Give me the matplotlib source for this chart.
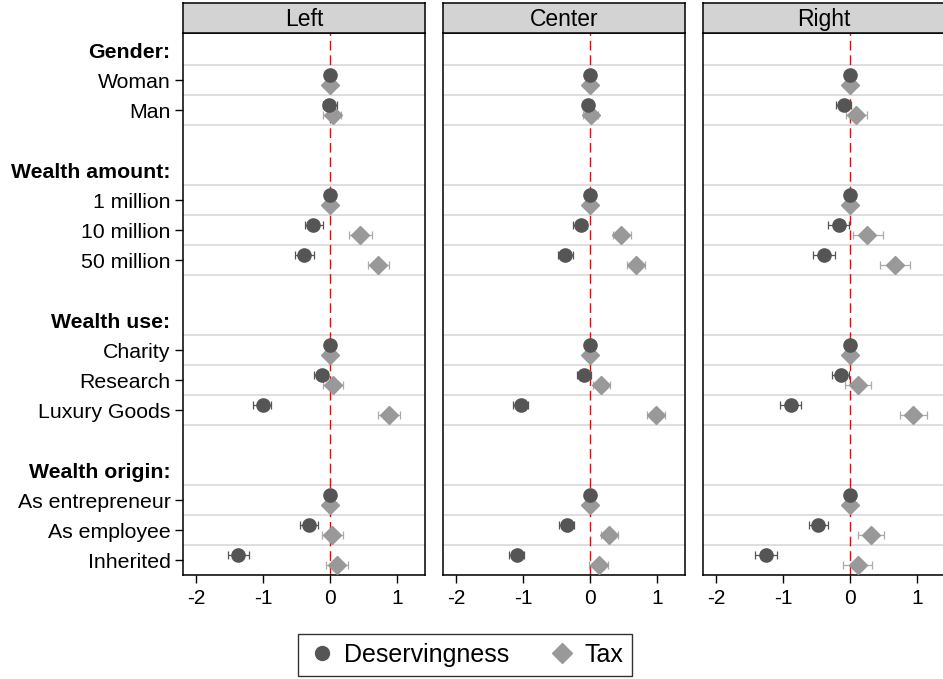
import matplotlib
matplotlib.use("Agg")
import matplotlib.pyplot as plt
from matplotlib.lines import Line2D
import numpy as np

plt.rcParams['font.family'] = ['Liberation Sans', 'DejaVu Sans']

# rows of the coefficient plot (headers are bold, no markers)
row_labels = ["Gender:", "Woman", "Man", "",
              "Wealth amount:", "1 million", "10 million", "50 million", "",
              "Wealth use:", "Charity", "Research", "Luxury Goods", "",
              "Wealth origin:", "As entrepreneur", "As employee", "Inherited"]
header_rows = [0, 4, 9, 14]
item_rows = [1, 2, 5, 6, 7, 10, 11, 12, 15, 16, 17]

panels = ["Left", "Center", "Right"]

# Deservingness estimates and 95% CI per panel (items in order of item_rows)
des_est = {
    "Left":   [0, -0.01, 0, -0.25, -0.385, 0, -0.125, -1.01, 0, -0.31, -1.37],
    "Center": [0, -0.025, 0, -0.14, -0.375, 0, -0.09, -1.04, 0, -0.35, -1.10],
    "Right":  [0, -0.09, 0, -0.17, -0.39, 0, -0.14, -0.88, 0, -0.475, -1.255],
}
des_lo = {
    "Left":   [0, -0.11, 0, -0.37, -0.52, 0, -0.24, -1.16, 0, -0.45, -1.52],
    "Center": [0, -0.10, 0, -0.25, -0.48, 0, -0.19, -1.15, 0, -0.46, -1.21],
    "Right":  [0, -0.215, 0, -0.33, -0.55, 0, -0.27, -1.05, 0, -0.615, -1.425],
}
des_hi = {
    "Left":   [0, 0.10, 0, -0.10, -0.24, 0, -0.03, -0.88, 0, -0.18, -1.21],
    "Center": [0, 0.05, 0, -0.04, -0.26, 0, 0.015, -0.925, 0, -0.24, -0.985],
    "Right":  [0, 0.02, 0, -0.02, -0.23, 0, -0.02, -0.74, 0, -0.33, -1.09],
}

# Tax estimates and 95% CI
tax_est = {
    "Left":   [0, 0.04, 0, 0.45, 0.72, 0, 0.05, 0.885, 0, 0.03, 0.10],
    "Center": [0, 0.01, 0, 0.465, 0.685, 0, 0.165, 0.985, 0, 0.29, 0.135],
    "Right":  [0, 0.095, 0, 0.25, 0.67, 0, 0.12, 0.945, 0, 0.31, 0.12],
}
tax_lo = {
    "Left":   [0, -0.10, 0, 0.28, 0.56, 0, -0.10, 0.72, 0, -0.12, -0.06],
    "Center": [0, -0.11, 0, 0.34, 0.55, 0, 0.04, 0.85, 0, 0.16, -0.01],
    "Right":  [0, -0.065, 0, 0.04, 0.45, 0, -0.08, 0.745, 0, 0.12, -0.10],
}
tax_hi = {
    "Left":   [0, 0.17, 0, 0.62, 0.88, 0, 0.20, 1.05, 0, 0.20, 0.27],
    "Center": [0, 0.12, 0, 0.61, 0.825, 0, 0.30, 1.125, 0, 0.425, 0.275],
    "Right":  [0, 0.26, 0, 0.49, 0.89, 0, 0.32, 1.15, 0, 0.51, 0.335],
}

xticks = [-2, -1, 0, 1]
des_color = "#555555"
tax_color = "#999999"

W, H = 943, 679
fig = plt.figure(figsize=(W / 100, H / 100), dpi=100)

lefts = [183, 443, 703]
pw = 242
top, bottom, head_top = 33, 575, 3

y = np.array(item_rows, dtype=float)
for k, (name, lx) in enumerate(zip(panels, lefts)):
    ax = fig.add_axes([lx / W, 1 - bottom / H, pw / W, (bottom - top) / H])
    hx = fig.add_axes([lx / W, 1 - top / H, pw / W, (top - head_top) / H])
    hx.set_facecolor("#d3d3d3")
    hx.set_xticks([])
    hx.set_yticks([])
    for s in hx.spines.values():
        s.set_linewidth(1.1)
    hx.text(0.5, 0.45, name, ha="center", va="center", fontsize=16.5,
            transform=hx.transAxes)

    # horizontal grid lines around each item
    for r in item_rows:
        for g in (r - 0.5, r + 0.5):
            ax.axhline(g, color="#dedede", lw=1.4, zorder=1)
    ax.axvline(0, color="red", lw=1.0, dashes=(7, 3.5), zorder=2)

    d = np.array(des_est[name])
    t = np.array(tax_est[name])
    d_err = [d - np.array(des_lo[name]), np.array(des_hi[name]) - d]
    t_err = [t - np.array(tax_lo[name]), np.array(tax_hi[name]) - t]
    ax.errorbar(d, y - 0.17, xerr=d_err, fmt="o", color=des_color,
                ms=9.5, mec=des_color, ecolor=des_color, elinewidth=0.9,
                capsize=3, capthick=0.9, zorder=4)
    ax.errorbar(t, y + 0.17, xerr=t_err, fmt="D", color=tax_color,
                ms=9.5, mec=tax_color, ecolor="#aaaaaa", elinewidth=0.9,
                capsize=3, capthick=0.9, zorder=3)

    ax.set_xlim(-2.2, 1.42)
    ax.set_ylim(17.5, -0.57)
    ax.set_xticks(xticks)
    ax.set_xticklabels([str(v) for v in xticks])
    ax.tick_params(axis="x", labelsize=15, length=6, width=1, pad=4)
    for s in ax.spines.values():
        s.set_linewidth(1.1)

    if k == 0:
        all_rows = list(range(len(row_labels)))
        ax.set_yticks(all_rows)
        ax.set_yticklabels(row_labels)
        ax.tick_params(axis="y", labelsize=15.3, length=6, width=1, pad=3)
        for i, tick in enumerate(ax.yaxis.get_major_ticks()):
            if i not in item_rows:
                tick.tick1line.set_visible(False)
            if i in header_rows:
                tick.label1.set_fontweight("bold")
    else:
        ax.set_yticks([])

handles = [
    Line2D([], [], marker="o", ls="none", color=des_color, ms=10),
    Line2D([], [], marker="D", ls="none", color=tax_color, ms=10),
]
leg = fig.legend(handles, ["Deservingness", "Tax"], ncol=2, loc="center",
                 bbox_to_anchor=(465 / W, 1 - 655 / H), fontsize=18,
                 frameon=True, fancybox=False, edgecolor="black",
                 handletextpad=0.3, columnspacing=1.5, handlelength=1.2,
                 borderpad=0.35)
leg.get_frame().set_linewidth(1.0)

fig.savefig("out.png", dpi=100)
